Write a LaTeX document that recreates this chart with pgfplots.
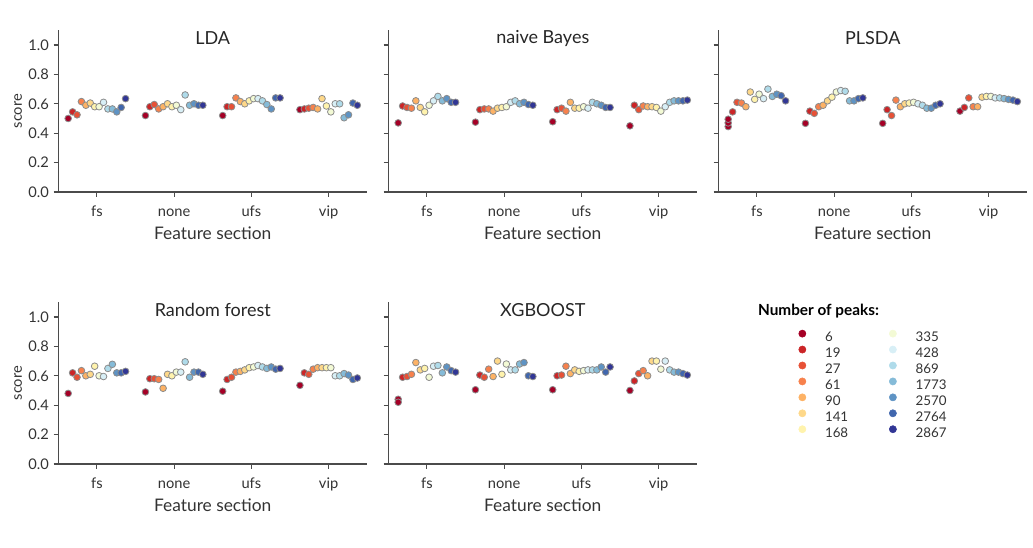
\documentclass[border=0pt]{standalone}
\usepackage{pgfplots}
\pgfplotsset{compat=1.18}
\usepackage{pgfplotstable}
\usepackage{fontspec}
\setmainfont{Lato}

% RdYlBu, 14 steps (one per peak count)
\definecolor{c1}{RGB}{165,0,38}
\definecolor{c2}{RGB}{203,37,39}
\definecolor{c3}{RGB}{231,81,54}
\definecolor{c4}{RGB}{247,129,76}
\definecolor{c5}{RGB}{253,178,101}
\definecolor{c6}{RGB}{254,216,137}
\definecolor{c7}{RGB}{255,243,173}
\definecolor{c8}{RGB}{243,250,213}
\definecolor{c9}{RGB}{216,239,246}
\definecolor{c10}{RGB}{175,219,234}
\definecolor{c11}{RGB}{133,187,216}
\definecolor{c12}{RGB}{94,147,196}
\definecolor{c13}{RGB}{64,102,173}
\definecolor{c14}{RGB}{49,54,149}
\definecolor{axgray}{RGB}{75,75,75}
\definecolor{txtgray}{RGB}{51,51,51}
\definecolor{edgegray}{RGB}{140,140,140}

% g = feature selection (0 fs, 1 none, 2 ufs, 3 vip), k = peak-count level, s = score
\pgfplotstableread[row sep=\\]{
g k s\\
0 1 0.500\\ 0 2 0.545\\ 0 3 0.525\\ 0 4 0.615\\ 0 5 0.590\\ 0 6 0.605\\ 0 7 0.580\\ 0 8 0.580\\ 0 9 0.610\\ 0 10 0.565\\ 0 11 0.565\\ 0 12 0.545\\ 0 13 0.575\\ 0 14 0.635\\
1 1 0.520\\ 1 2 0.580\\ 1 3 0.595\\ 1 4 0.565\\ 1 5 0.580\\ 1 6 0.600\\ 1 7 0.580\\ 1 8 0.590\\ 1 9 0.560\\ 1 10 0.660\\ 1 11 0.590\\ 1 12 0.600\\ 1 13 0.590\\ 1 14 0.590\\
2 1 0.520\\ 2 2 0.580\\ 2 3 0.580\\ 2 4 0.640\\ 2 5 0.615\\ 2 6 0.600\\ 2 7 0.620\\ 2 8 0.635\\ 2 9 0.635\\ 2 10 0.620\\ 2 11 0.595\\ 2 12 0.565\\ 2 13 0.640\\ 2 14 0.640\\
3 1 0.560\\ 3 2 0.565\\ 3 3 0.570\\ 3 4 0.575\\ 3 5 0.565\\ 3 6 0.635\\ 3 7 0.585\\ 3 8 0.545\\ 3 9 0.600\\ 3 10 0.600\\ 3 11 0.505\\ 3 12 0.525\\ 3 13 0.605\\ 3 14 0.590\\
}\tLDA

\pgfplotstableread[row sep=\\]{
g k s\\
0 1 0.470\\ 0 2 0.585\\ 0 3 0.575\\ 0 4 0.570\\ 0 5 0.620\\ 0 6 0.575\\ 0 7 0.545\\ 0 8 0.590\\ 0 9 0.620\\ 0 10 0.650\\ 0 11 0.620\\ 0 12 0.635\\ 0 13 0.610\\ 0 14 0.610\\
1 1 0.475\\ 1 2 0.560\\ 1 3 0.565\\ 1 4 0.565\\ 1 5 0.550\\ 1 6 0.570\\ 1 7 0.575\\ 1 8 0.580\\ 1 9 0.610\\ 1 10 0.620\\ 1 11 0.600\\ 1 12 0.610\\ 1 13 0.595\\ 1 14 0.590\\
2 1 0.478\\ 2 2 0.560\\ 2 3 0.570\\ 2 4 0.550\\ 2 5 0.610\\ 2 6 0.570\\ 2 7 0.570\\ 2 8 0.580\\ 2 9 0.570\\ 2 10 0.610\\ 2 11 0.600\\ 2 12 0.590\\ 2 13 0.575\\ 2 14 0.575\\
3 1 0.450\\ 3 2 0.590\\ 3 3 0.560\\ 3 4 0.585\\ 3 5 0.580\\ 3 6 0.580\\ 3 7 0.575\\ 3 8 0.550\\ 3 9 0.580\\ 3 10 0.610\\ 3 11 0.620\\ 3 12 0.620\\ 3 13 0.620\\ 3 14 0.625\\
}\tNB

\pgfplotstableread[row sep=\\]{
g k s\\
0 1 0.445\\ 0 1 0.470\\ 0 1 0.495\\ 0 2 0.545\\ 0 3 0.610\\ 0 4 0.605\\ 0 5 0.580\\ 0 6 0.680\\ 0 7 0.630\\ 0 8 0.665\\ 0 9 0.635\\ 0 10 0.700\\ 0 11 0.650\\ 0 12 0.665\\ 0 13 0.655\\ 0 14 0.620\\
1 1 0.467\\ 1 2 0.550\\ 1 3 0.535\\ 1 4 0.580\\ 1 5 0.590\\ 1 6 0.620\\ 1 7 0.645\\ 1 8 0.680\\ 1 9 0.690\\ 1 10 0.685\\ 1 11 0.620\\ 1 12 0.620\\ 1 13 0.635\\ 1 14 0.640\\
2 1 0.467\\ 2 2 0.560\\ 2 3 0.520\\ 2 4 0.625\\ 2 5 0.580\\ 2 6 0.600\\ 2 7 0.605\\ 2 8 0.610\\ 2 9 0.600\\ 2 10 0.590\\ 2 11 0.570\\ 2 12 0.570\\ 2 13 0.590\\ 2 14 0.600\\
3 1 0.550\\ 3 2 0.575\\ 3 3 0.640\\ 3 4 0.580\\ 3 5 0.580\\ 3 6 0.645\\ 3 7 0.650\\ 3 8 0.650\\ 3 9 0.640\\ 3 10 0.640\\ 3 11 0.635\\ 3 12 0.630\\ 3 13 0.625\\ 3 14 0.615\\
}\tPLSDA

\pgfplotstableread[row sep=\\]{
g k s\\
0 1 0.480\\ 0 2 0.620\\ 0 3 0.590\\ 0 4 0.635\\ 0 5 0.600\\ 0 6 0.610\\ 0 7 0.665\\ 0 8 0.600\\ 0 9 0.595\\ 0 10 0.650\\ 0 11 0.678\\ 0 12 0.620\\ 0 13 0.620\\ 0 14 0.630\\
1 1 0.490\\ 1 2 0.580\\ 1 3 0.580\\ 1 4 0.575\\ 1 5 0.515\\ 1 6 0.610\\ 1 7 0.600\\ 1 8 0.625\\ 1 9 0.625\\ 1 10 0.695\\ 1 11 0.590\\ 1 12 0.625\\ 1 13 0.625\\ 1 14 0.610\\
2 1 0.495\\ 2 2 0.575\\ 2 3 0.590\\ 2 4 0.625\\ 2 5 0.630\\ 2 6 0.640\\ 2 7 0.655\\ 2 8 0.660\\ 2 9 0.670\\ 2 10 0.660\\ 2 11 0.650\\ 2 12 0.660\\ 2 13 0.645\\ 2 14 0.650\\
3 1 0.535\\ 3 2 0.620\\ 3 3 0.610\\ 3 4 0.645\\ 3 5 0.655\\ 3 6 0.655\\ 3 7 0.655\\ 3 8 0.655\\ 3 9 0.600\\ 3 10 0.600\\ 3 11 0.615\\ 3 12 0.605\\ 3 13 0.575\\ 3 14 0.585\\
}\tRF

\pgfplotstableread[row sep=\\]{
g k s\\
0 1 0.440\\ 0 1 0.420\\ 0 2 0.590\\ 0 3 0.595\\ 0 4 0.610\\ 0 5 0.690\\ 0 6 0.640\\ 0 7 0.650\\ 0 8 0.590\\ 0 9 0.665\\ 0 10 0.670\\ 0 11 0.620\\ 0 12 0.660\\ 0 13 0.635\\ 0 14 0.625\\
1 1 0.505\\ 1 2 0.605\\ 1 3 0.590\\ 1 4 0.645\\ 1 5 0.595\\ 1 6 0.700\\ 1 7 0.610\\ 1 8 0.680\\ 1 9 0.640\\ 1 10 0.640\\ 1 11 0.680\\ 1 12 0.690\\ 1 13 0.600\\ 1 14 0.595\\
2 1 0.505\\ 2 2 0.600\\ 2 3 0.605\\ 2 4 0.665\\ 2 5 0.615\\ 2 6 0.640\\ 2 7 0.630\\ 2 8 0.635\\ 2 9 0.640\\ 2 10 0.640\\ 2 11 0.640\\ 2 12 0.660\\ 2 13 0.625\\ 2 14 0.660\\
3 1 0.500\\ 3 2 0.565\\ 3 3 0.615\\ 3 4 0.635\\ 3 5 0.600\\ 3 6 0.700\\ 3 7 0.700\\ 3 8 0.645\\ 3 9 0.700\\ 3 10 0.640\\ 3 11 0.625\\ 3 12 0.625\\ 3 13 0.615\\ 3 14 0.605\\
}\tXGB

\pgfplotsset{
  panel/.style={
    scale only axis, width=231.75pt, height=121.3pt, anchor=south west,
    xmin=-0.5, xmax=3.5, ymin=0, ymax=1.1,
    axis x line*=bottom, axis y line*=left,
    axis line style={-, axgray, line width=0.8pt},
    xtick={0,1,2,3}, xticklabels={fs,none,ufs,vip},
    ytick={0,0.2,0.4,0.6,0.8,1.0},
    tick align=outside, major tick length=3.5pt,
    tick style={axgray, line width=0.8pt},
    ticklabel style={font=\fontsize{11}{13}\selectfont, text=txtgray},
    xticklabel style={text height=8pt, text depth=2pt, yshift=-3pt},
    /pgf/number format/assume math mode=true,
    yticklabel style={/pgf/number format/fixed, /pgf/number format/fixed zerofill, /pgf/number format/precision=1},
    xlabel={Feature section},
    xlabel style={font=\fontsize{13}{15}\selectfont, text=txtgray, at={(axis description cs:0.5,0)}, anchor=center, yshift=-30.75pt},
    ylabel style={font=\fontsize{11}{13}\selectfont, text=txtgray, at={(axis description cs:-0.13,0.5)}, anchor=center},
    title style={font=\fontsize{13.5}{16}\selectfont, text=black!85, at={(axis description cs:0.5,1)}, anchor=center, yshift=-12pt},
    clip=false,
  },
  noy/.style={yticklabels={}},
  hues/.style={scatter/classes={
    1={draw=edgegray,fill=c1}, 2={draw=edgegray,fill=c2}, 3={draw=edgegray,fill=c3},
    4={draw=edgegray,fill=c4}, 5={draw=edgegray,fill=c5}, 6={draw=edgegray,fill=c6},
    7={draw=edgegray,fill=c7}, 8={draw=edgegray,fill=c8}, 9={draw=edgegray,fill=c9},
    10={draw=edgegray,fill=c10}, 11={draw=edgegray,fill=c11}, 12={draw=edgegray,fill=c12},
    13={draw=edgegray,fill=c13}, 14={draw=edgegray,fill=c14}}},
  dots/.style={scatter, only marks, mark=*, mark size=2.5pt,
    mark options={line width=0.6pt}, scatter src=explicit symbolic, hues},
  legmark/.style={only marks, mark=*, mark size=2.7pt,
    legend image code/.code={\path[draw=none, fill=none] (0pt,0pt) rectangle (21pt,0pt); \draw[##1] plot coordinates {(4pt,2.6pt)};}},
}

% strip positions: category index, dodged by peak-count level
\newcommand{\strip}[1]{\addplot[dots] table[x expr=\thisrow{g}-0.4+(\thisrow{k}-0.5)*0.8/14, y=s, meta=k] {#1};}

\begin{document}
\begin{tikzpicture}
\path[use as bounding box] (0pt,0pt) rectangle (774.75pt,410.25pt);

\begin{axis}[panel, at={(43.7pt,266.25pt)}, title={LDA}, ylabel={score}]
\strip{\tLDA}
\end{axis}

\begin{axis}[panel, noy, at={(291.2pt,266.25pt)}, title={naive Bayes}]
\strip{\tNB}
\end{axis}

\begin{axis}[panel, noy, at={(538.7pt,266.25pt)}, title={PLSDA}]
\strip{\tPLSDA}
\end{axis}

\begin{axis}[panel, at={(43.7pt,62.25pt)}, title={Random forest}, ylabel={score}]
\strip{\tRF}
\end{axis}

\begin{axis}[panel, noy, at={(291.2pt,62.25pt)}, title={XGBOOST}]
\strip{\tXGB}
\end{axis}

% legend panel
\begin{axis}[at={(538.7pt,62.25pt)}, anchor=south west, scale only axis,
  width=231.75pt, height=121.3pt, hide axis, xmin=0, xmax=1, ymin=0, ymax=1,
  legend columns=2, legend cell align=left,
  legend style={draw=none, fill=none, inner sep=0pt,
    at={(axis description cs:0.254,0.83)}, anchor=north west,
    font=\fontsize{10}{12}\selectfont, text=txtgray,
    nodes={inner sep=0pt, text height=7.5pt, text depth=1pt},
    row sep=2.4pt, /tikz/every even column/.append style={column sep=29.5pt}}]
\addlegendimage{legmark, fill=c1, draw=c1}\addlegendentry{6}
\addlegendimage{legmark, fill=c8, draw=c8}\addlegendentry{335}
\addlegendimage{legmark, fill=c2, draw=c2}\addlegendentry{19}
\addlegendimage{legmark, fill=c9, draw=c9}\addlegendentry{428}
\addlegendimage{legmark, fill=c3, draw=c3}\addlegendentry{27}
\addlegendimage{legmark, fill=c10, draw=c10}\addlegendentry{869}
\addlegendimage{legmark, fill=c4, draw=c4}\addlegendentry{61}
\addlegendimage{legmark, fill=c11, draw=c11}\addlegendentry{1773}
\addlegendimage{legmark, fill=c5, draw=c5}\addlegendentry{90}
\addlegendimage{legmark, fill=c12, draw=c12}\addlegendentry{2570}
\addlegendimage{legmark, fill=c6, draw=c6}\addlegendentry{141}
\addlegendimage{legmark, fill=c13, draw=c13}\addlegendentry{2764}
\addlegendimage{legmark, fill=c7, draw=c7}\addlegendentry{168}
\addlegendimage{legmark, fill=c14, draw=c14}\addlegendentry{2867}
\node[anchor=west, inner sep=0pt, font=\bfseries\fontsize{11.5}{13}\selectfont, text=black] at (axis description cs:0.128,0.945) {Number of peaks:};
\end{axis}
\end{tikzpicture}
\end{document}
